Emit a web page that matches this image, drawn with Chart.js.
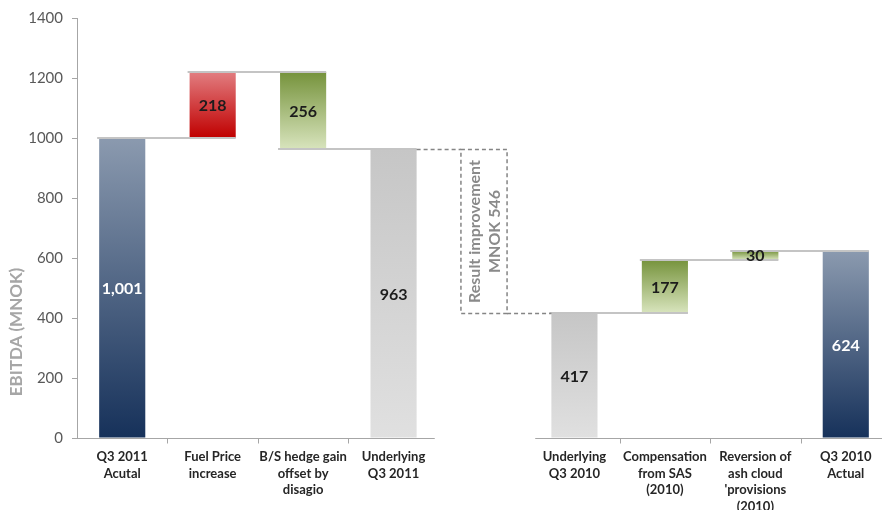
<!DOCTYPE html>
<html>
<head>
<meta charset="utf-8">
<script src="https://cdn.jsdelivr.net/npm/chart.js@4.4.0/dist/chart.umd.min.js"></script>
<style>
  html, body { margin: 0; padding: 0; overflow: hidden; background: #ffffff; }
  #wrap { width: 891px; height: 510px; }
</style>
</head>
<body>
<div id="wrap"><canvas id="chart"></canvas></div>
<script>
// EBITDA bridge, Q3 2011 vs Q3 2010 (MNOK)
const categories = [
  ['Q3 2011', 'Acutal'],
  ['Fuel Price', 'increase'],
  ['B/S hedge gain', 'offset by', 'disagio'],
  ['Underlying', 'Q3 2011'],
  '',
  ['Underlying', 'Q3 2010'],
  ['Compensation', 'from SAS', '(2010)'],
  ['Reversion of', 'ash cloud', "'provisions", '(2010)'],
  ['Q3 2010', 'Actual']
];
// 'total' bars start at zero, 'step' bars float from the running level
const barKind = ['total', 'step', 'step', 'total', null, 'total', 'step', 'step', 'total'];
const values = [1001, 218, -256, 963, null, 417, 177, 30, 624];
const yTicks = [0, 200, 400, 600, 800, 1000, 1200, 1400];
const axisTitle = 'EBITDA (MNOK)';

// Build floating ranges and running levels
const ranges = [];
const levels = [];
let running = 0;
values.forEach((v, i) => {
  if (barKind[i] === null) { ranges.push(null); levels.push(null); return; }
  if (barKind[i] === 'total') { ranges.push([0, v]); running = v; }
  else { ranges.push([Math.min(running, running + v), Math.max(running, running + v)]); running += v; }
  levels.push(running);
});
const labelText = values.map(v => v === null ? '' : Math.abs(v).toLocaleString('en-US'));
const improvement = values[3] - values[5];

// Fill style per bar
const palette = {
  navy:  { top: '#8b9aaf', bottom: '#16315a', text: '#ffffff' },
  red:   { top: '#e27d80', bottom: '#c00000', text: '#1c1c1c' },
  green: { top: '#76933c', bottom: '#d8e4bd', text: '#1c1c1c' },
  grey:  { top: '#c6c6c6', bottom: '#e0e0e0', text: '#1c1c1c' }
};
const barStyle = ['navy', 'red', 'green', 'grey', null, 'grey', 'green', 'green', 'navy'];

const FONT = 'Lato, "Open Sans", sans-serif';

function barFill(ctx) {
  if (ctx.type !== 'data') return 'transparent';
  const i = ctx.dataIndex;
  const r = ranges[i];
  const y = ctx.chart.scales.y;
  if (!r) return 'transparent';
  const p = palette[barStyle[i]];
  if (!y) return p.top;
  const y1 = y.getPixelForValue(r[1]);
  const y2 = y.getPixelForValue(r[0]);
  if (!isFinite(y1) || !isFinite(y2) || y1 === y2) return p.top;
  const g = ctx.chart.ctx.createLinearGradient(0, y1, 0, y2);
  g.addColorStop(0, p.top);
  g.addColorStop(1, p.bottom);
  return g;
}

const bridgeDecor = {
  id: 'bridgeDecor',
  afterDatasetsDraw(chart) {
    const { ctx, scales: { x, y }, chartArea } = chart;
    const bars = chart.getDatasetMeta(0).data;
    const half = i => bars[i].width / 2;
    const cw = x.getPixelForValue(1) - x.getPixelForValue(0);
    ctx.save();

    // connector lines between neighbouring bars
    ctx.strokeStyle = '#c4c4c4';
    ctx.lineWidth = 2;
    for (let i = 0; i < values.length - 1; i++) {
      if (levels[i] === null || levels[i + 1] === null) continue;
      const py = Math.round(y.getPixelForValue(levels[i]));
      ctx.beginPath();
      ctx.moveTo(bars[i].x - half(i) - 2, py);
      ctx.lineTo(bars[i + 1].x + half(i + 1), py);
      ctx.stroke();
    }

    // dashed bracket showing the improvement between the two underlying results
    const bx = x.getPixelForValue(4);
    const bw = half(3);
    const yHi = Math.round(y.getPixelForValue(values[3])) + 0.5;
    const yLo = Math.round(y.getPixelForValue(values[5])) + 0.5;
    ctx.strokeStyle = '#858585';
    ctx.lineWidth = 1.5;
    ctx.setLineDash([4, 3]);
    ctx.beginPath();
    ctx.moveTo(bars[3].x + half(3), yHi);
    ctx.lineTo(bx - bw, yHi);
    ctx.moveTo(bx + bw, yLo);
    ctx.lineTo(bars[5].x - half(5), yLo);
    ctx.stroke();
    ctx.strokeRect(bx - bw, yHi, bw * 2, yLo - yHi);
    ctx.setLineDash([]);

    ctx.fillStyle = '#8a8a8a';
    ctx.font = 'bold 16px ' + FONT;
    ctx.textAlign = 'center';
    ctx.textBaseline = 'middle';
    const cy = (yHi + yLo) / 2;
    [['Result improvement', -9], ['MNOK ' + improvement, 11]].forEach(([t, dx]) => {
      ctx.save();
      ctx.translate(bx + dx, cy);
      ctx.rotate(-Math.PI / 2);
      ctx.fillText(t, 0, 0);
      ctx.restore();
    });

    // value labels centred in each bar
    ctx.font = 'bold 16px ' + FONT;
    bars.forEach((b, i) => {
      if (!ranges[i]) return;
      const mid = y.getPixelForValue((ranges[i][0] + ranges[i][1]) / 2);
      ctx.fillStyle = palette[barStyle[i]].text;
      ctx.fillText(labelText[i], b.x, mid + 1);
    });

    // category axis, broken around the bracket
    const y0 = Math.round(y.getPixelForValue(0)) + 0.5;
    ctx.strokeStyle = '#a6a6a6';
    ctx.lineWidth = 1;
    const leftEnd = x.getPixelForValue(3) + cw / 2 - 4;
    const rightStart = x.getPixelForValue(5) - cw / 2 + 6;
    ctx.beginPath();
    ctx.moveTo(chartArea.left, y0);
    ctx.lineTo(leftEnd, y0);
    ctx.moveTo(rightStart, y0);
    ctx.lineTo(chartArea.right, y0);
    [0, 1, 2, 5, 6, 7].forEach(i => {
      const tx = Math.round(x.getPixelForValue(i) + cw / 2) + 0.5;
      ctx.moveTo(tx, y0);
      ctx.lineTo(tx, y0 + 5);
    });
    ctx.stroke();

    // value axis title
    ctx.fillStyle = '#a6a6a6';
    ctx.font = 'bold 17px ' + FONT;
    ctx.save();
    ctx.translate(17, 332);
    ctx.rotate(-Math.PI / 2);
    ctx.fillText(axisTitle, 0, 0);
    ctx.restore();

    ctx.restore();
  }
};

new Chart(document.getElementById('chart'), {
  type: 'bar',
  data: {
    labels: categories,
    datasets: [{
      data: ranges,
      backgroundColor: barFill,
      borderWidth: 0,
      categoryPercentage: 1,
      barPercentage: 0.51
    }]
  },
  options: {
    responsive: true,
    maintainAspectRatio: false,
    animation: false,
    layout: { padding: { top: 17, left: 0, right: 0, bottom: 0 } },
    plugins: { legend: { display: false }, tooltip: { enabled: false } },
    scales: {
      x: {
        offset: true,
        grid: { display: false, drawTicks: false },
        border: { display: false },
        ticks: {
          autoSkip: false,
          maxRotation: 0,
          padding: 10,
          color: '#262626',
          font: { family: FONT, size: 13, weight: 'bold', lineHeight: 1.3 }
        },
        afterFit(scale) { scale.height = 72; }
      },
      y: {
        min: 0,
        max: 1400,
        afterBuildTicks(scale) { scale.ticks = yTicks.map(v => ({ value: v })); },
        grid: { drawOnChartArea: false, tickLength: 5, color: '#a6a6a6' },
        border: { display: true, color: '#a6a6a6' },
        ticks: {
          padding: 9,
          color: '#595959',
          font: { family: FONT, size: 15 },
          callback: v => String(v)
        },
        afterFit(scale) { scale.width = 77; }
      }
    }
  },
  plugins: [bridgeDecor]
});
</script>
</body>
</html>
